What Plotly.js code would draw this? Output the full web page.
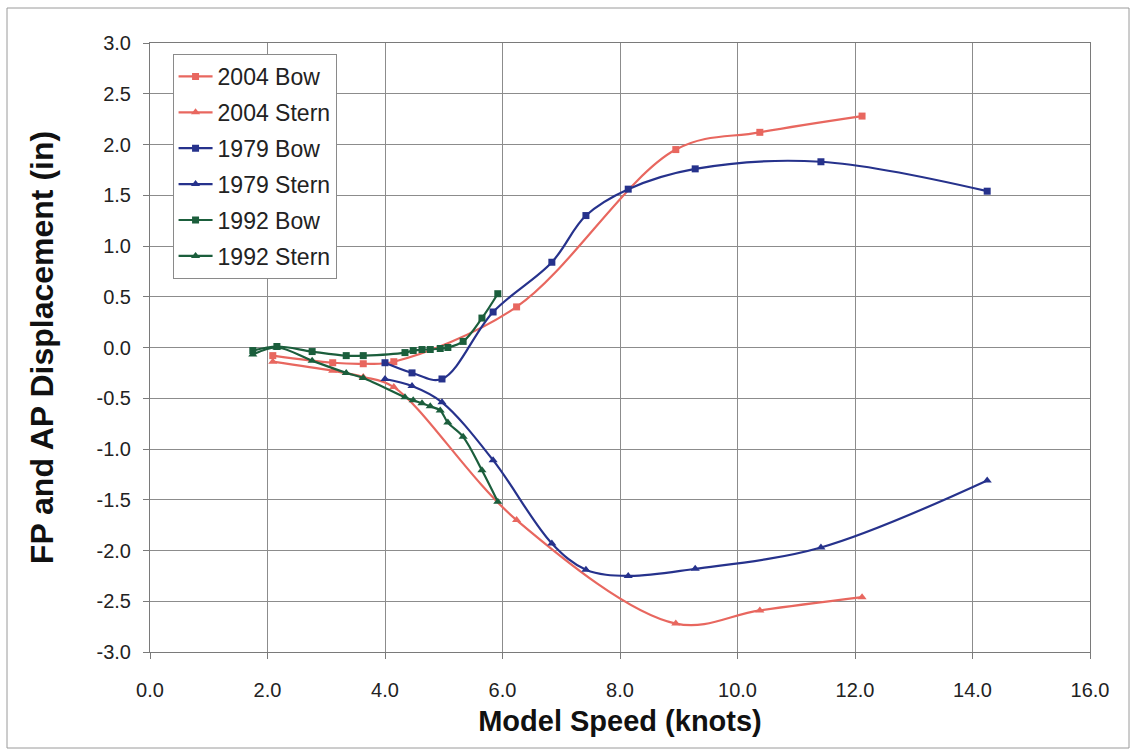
<!DOCTYPE html>
<html>
<head>
<meta charset="utf-8">
<script src="https://cdn.plot.ly/plotly-3.0.1.min.js"></script>
<style>
  html, body { margin: 0; padding: 0; background: #ffffff; }
  #chart { width: 1135px; height: 753px; }
</style>
</head>
<body>
<div id="chart"></div>
<script>
// Model speed (knots) and FP / AP displacement (in) for each test series
const speed2004 = [2.09, 3.11, 3.63, 4.15, 6.24, 8.95, 10.38, 12.12];
const bow2004   = [-0.08, -0.15, -0.16, -0.14, 0.40, 1.95, 2.12, 2.28];
const stern2004 = [-0.14, -0.23, -0.29, -0.39, -1.70, -2.72, -2.59, -2.46];

const speed1979 = [4.00, 4.46, 4.97, 5.84, 6.84, 7.42, 8.14, 9.28, 11.42, 14.25];
const bow1979   = [-0.15, -0.25, -0.31, 0.35, 0.84, 1.30, 1.56, 1.76, 1.83, 1.54];
const stern1979 = [-0.31, -0.38, -0.54, -1.11, -1.93, -2.19, -2.25, -2.18, -1.97, -1.31];

const speed1992 = [1.75, 2.16, 2.76, 3.34, 3.63, 4.34, 4.48, 4.63, 4.77, 4.94, 5.07, 5.33, 5.65, 5.92];
const bow1992   = [-0.03, 0.01, -0.04, -0.08, -0.08, -0.05, -0.03, -0.02, -0.02, -0.01, 0.00, 0.06, 0.29, 0.53];
const stern1992 = [-0.07, 0.00, -0.13, -0.25, -0.30, -0.49, -0.52, -0.55, -0.58, -0.62, -0.74, -0.88, -1.21, -1.52];

const seriesNames = ['2004 Bow', '2004 Stern', '1979 Bow', '1979 Stern', '1992 Bow', '1992 Stern'];

// Axis tick values and their printed labels (plain hyphen for negatives)
const xTickVals = [0, 2, 4, 6, 8, 10, 12, 14, 16];
const xTickText = ['0.0', '2.0', '4.0', '6.0', '8.0', '10.0', '12.0', '14.0', '16.0'];
const yTickVals = [3, 2.5, 2, 1.5, 1, 0.5, 0, -0.5, -1, -1.5, -2, -2.5, -3];
const yTickText = ['3.0', '2.5', '2.0', '1.5', '1.0', '0.5', '0.0', '-0.5', '-1.0', '-1.5', '-2.0', '-2.5', '-3.0'];

const RED = '#e8675f';
const BLUE = '#26328c';
const GREEN = '#1b5e3c';

function series(name, x, y, color, symbol, size) {
  return {
    type: 'scatter',
    mode: 'lines+markers',
    name: name,
    legendgroup: name,
    x: x,
    y: y,
    line: { color: color, width: 2.2, shape: 'spline', smoothing: 1 },
    marker: { color: color, symbol: symbol, size: size }
  };
}

const data = [
  series(seriesNames[0], speed2004, bow2004, RED, 'square', 7),
  series(seriesNames[1], speed2004, stern2004, RED, 'triangle-up', 8),
  series(seriesNames[2], speed1979, bow1979, BLUE, 'square', 7),
  series(seriesNames[3], speed1979, stern1979, BLUE, 'triangle-up', 8),
  series(seriesNames[4], speed1992, bow1992, GREEN, 'square', 7),
  series(seriesNames[5], speed1992, stern1992, GREEN, 'triangle-up', 8)
];

const FONT = 'Arial, "Liberation Sans", sans-serif';

const layout = {
  width: 1135,
  height: 753,
  margin: { l: 150, r: 45, t: 43, b: 101 },
  paper_bgcolor: '#ffffff',
  plot_bgcolor: '#ffffff',
  font: { family: FONT, color: '#222222', size: 20 },
  showlegend: true,
  legend: {
    x: 0.024, y: 0.982, xanchor: 'left', yanchor: 'top',
    bgcolor: '#ffffff',
    bordercolor: '#8a8a8a',
    borderwidth: 1,
    font: { family: FONT, size: 23, color: '#222222' },
    traceorder: 'grouped',
    tracegroupgap: 3,
    itemwidth: 34
  },
  xaxis: {
    range: [0, 16],
    tickmode: 'array', tickvals: xTickVals, ticktext: xTickText,
    showgrid: true, gridcolor: '#8c8c8c', gridwidth: 1,
    zeroline: false,
    showline: true, linecolor: '#7a7a7a', linewidth: 1, mirror: true,
    ticks: 'outside', ticklen: 6, tickcolor: '#7a7a7a',
    ticklabelstandoff: 14,
    tickfont: { family: FONT, size: 20, color: '#222222' },
    title: { text: '<b>Model Speed (knots)</b>', font: { family: FONT, size: 29, color: '#111111' }, standoff: 10 },
    automargin: false
  },
  yaxis: {
    range: [-3, 3],
    tickmode: 'array', tickvals: yTickVals, ticktext: yTickText,
    showgrid: true, gridcolor: '#8c8c8c', gridwidth: 1,
    zeroline: false,
    showline: true, linecolor: '#7a7a7a', linewidth: 1, mirror: true,
    ticks: 'outside', ticklen: 6, tickcolor: '#7a7a7a',
    ticklabelstandoff: 8,
    tickfont: { family: FONT, size: 20, color: '#222222' },
    title: { text: '<b>FP and AP Displacement (in)</b>', font: { family: FONT, size: 32, color: '#111111' }, standoff: 33 },
    automargin: false
  },
  shapes: [
    {
      type: 'rect', xref: 'paper', yref: 'paper',
      x0: (7 - 150) / 940, x1: (1129 - 150) / 940,
      y0: (652 - 748) / 609, y1: (652 - 8) / 609,
      line: { color: '#9a9a9a', width: 1 },
      fillcolor: 'rgba(0,0,0,0)',
      layer: 'below'
    }
  ]
};

Plotly.newPlot('chart', data, layout, { displayModeBar: false, staticPlot: true });
</script>
</body>
</html>
